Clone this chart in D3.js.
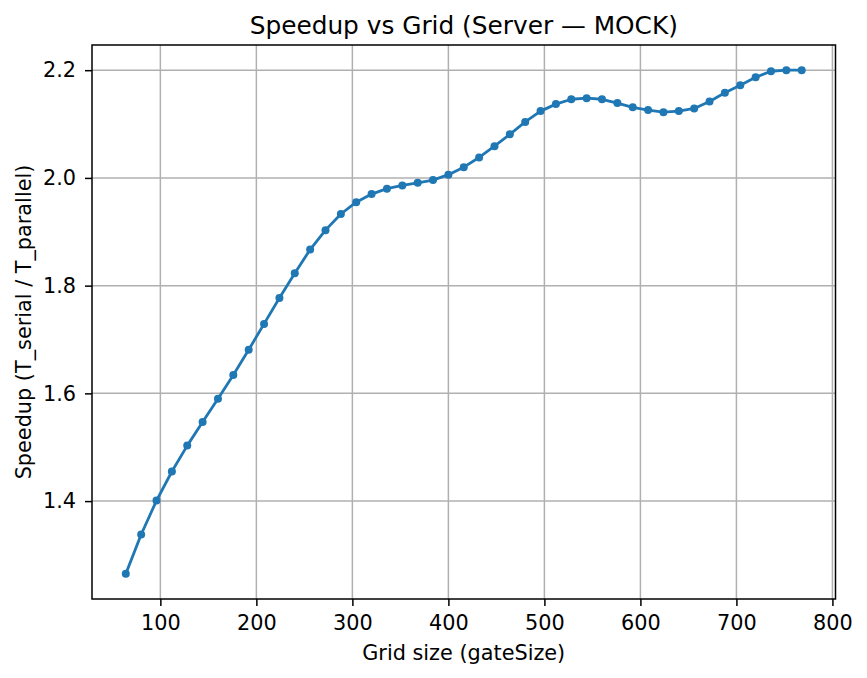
<!DOCTYPE html>
<html>
<head>
<meta charset="utf-8">
<script src="https://cdn.jsdelivr.net/npm/d3@7"></script>
<style>
  body { margin: 0; background: #fff; }
  text { font-family: "DejaVu Sans", sans-serif; fill: #000; }
</style>
</head>
<body>
<div id="chart"></div>
<script>
// grid sizes (gateSize) and measured speedup
var gridSizes = [64, 80, 96, 112, 128, 144, 160, 176, 192, 208, 224, 240, 256, 272, 288,
  304, 320, 336, 352, 368, 384, 400, 416, 432, 448, 464, 480, 496, 512, 528,
  544, 560, 576, 592, 608, 624, 640, 656, 672, 688, 704, 720, 736, 752, 768];
var speedups = [1.265, 1.338, 1.401, 1.455, 1.503, 1.547, 1.590, 1.634, 1.681, 1.729,
  1.777, 1.823, 1.867, 1.903, 1.933, 1.955, 1.970, 1.980, 1.986, 1.991,
  1.996, 2.006, 2.020, 2.038, 2.059, 2.081, 2.104, 2.124, 2.137, 2.146,
  2.148, 2.146, 2.139, 2.131, 2.126, 2.122, 2.124, 2.129, 2.142, 2.158,
  2.172, 2.187, 2.198, 2.200, 2.200];
var xTicks = [100, 200, 300, 400, 500, 600, 700, 800];
var yTicks = [1.4, 1.6, 1.8, 2.0, 2.2];

var width = 867, height = 678;
var m = { left: 92, right: 835.5, top: 45, bottom: 599 };

var points = gridSizes.map(function (g, i) { return { x: g, y: speedups[i] }; });

// matplotlib-like 5% margins
function padded(ext) {
  var p = (ext[1] - ext[0]) * 0.05;
  return [ext[0] - p, ext[1] + p];
}

var x = d3.scaleLinear().domain(padded(d3.extent(gridSizes))).range([m.left, m.right]);
var y = d3.scaleLinear().domain(padded(d3.extent(speedups))).range([m.bottom, m.top]);

var svg = d3.select("#chart").append("svg")
    .attr("width", width)
    .attr("height", height);

// grid
svg.append("g")
    .selectAll("line")
    .data(xTicks)
    .enter().append("line")
    .attr("x1", function (d) { return x(d); })
    .attr("x2", function (d) { return x(d); })
    .attr("y1", m.top)
    .attr("y2", m.bottom)
    .attr("stroke", "#b0b0b0")
    .attr("stroke-width", 1.5);

svg.append("g")
    .selectAll("line")
    .data(yTicks)
    .enter().append("line")
    .attr("x1", m.left)
    .attr("x2", m.right)
    .attr("y1", function (d) { return y(d); })
    .attr("y2", function (d) { return y(d); })
    .attr("stroke", "#b0b0b0")
    .attr("stroke-width", 1.5);

// line + markers
var line = d3.line()
    .x(function (d) { return x(d.x); })
    .y(function (d) { return y(d.y); });

svg.append("path")
    .datum(points)
    .attr("d", line)
    .attr("fill", "none")
    .attr("stroke", "#1f77b4")
    .attr("stroke-width", 2.8)
    .attr("stroke-linejoin", "round")
    .attr("stroke-linecap", "square");

svg.append("g")
    .selectAll("circle")
    .data(points)
    .enter().append("circle")
    .attr("cx", function (d) { return x(d.x); })
    .attr("cy", function (d) { return y(d.y); })
    .attr("r", 4)
    .attr("fill", "#1f77b4");

// axes
var xAxis = d3.axisBottom(x).tickValues(xTicks).tickSize(7).tickPadding(9).tickFormat(d3.format("d"));
var yAxis = d3.axisLeft(y).tickValues(yTicks).tickSize(7).tickPadding(9).tickFormat(d3.format(".1f"));

var gx = svg.append("g")
    .attr("transform", "translate(0," + m.bottom + ")")
    .call(xAxis);
var gy = svg.append("g")
    .attr("transform", "translate(" + m.left + ",0)")
    .call(yAxis);

[gx, gy].forEach(function (g) {
  g.select(".domain").remove();
  g.selectAll(".tick line").attr("stroke", "#000").attr("stroke-width", 1.5);
  g.selectAll(".tick text")
    .style("font-family", "DejaVu Sans")
    .style("font-size", "20.8px")
    .attr("fill", "#000");
});

// spines
svg.append("rect")
    .attr("x", m.left)
    .attr("y", m.top)
    .attr("width", m.right - m.left)
    .attr("height", m.bottom - m.top)
    .attr("fill", "none")
    .attr("stroke", "#000")
    .attr("stroke-width", 1.5);

// title and labels
svg.append("text")
    .attr("x", (m.left + m.right) / 2)
    .attr("y", 33.5)
    .attr("text-anchor", "middle")
    .style("font-size", "24.8px")
    .text("Speedup vs Grid (Server \u2014 MOCK)");

svg.append("text")
    .attr("x", (m.left + m.right) / 2)
    .attr("y", 660)
    .attr("text-anchor", "middle")
    .style("font-size", "20.8px")
    .text("Grid size (gateSize)");

svg.append("text")
    .attr("transform", "translate(30.5," + (m.top + m.bottom) / 2 + ") rotate(-90)")
    .attr("text-anchor", "middle")
    .style("font-size", "20.8px")
    .text("Speedup (T_serial / T_parallel)");
</script>
</body>
</html>
